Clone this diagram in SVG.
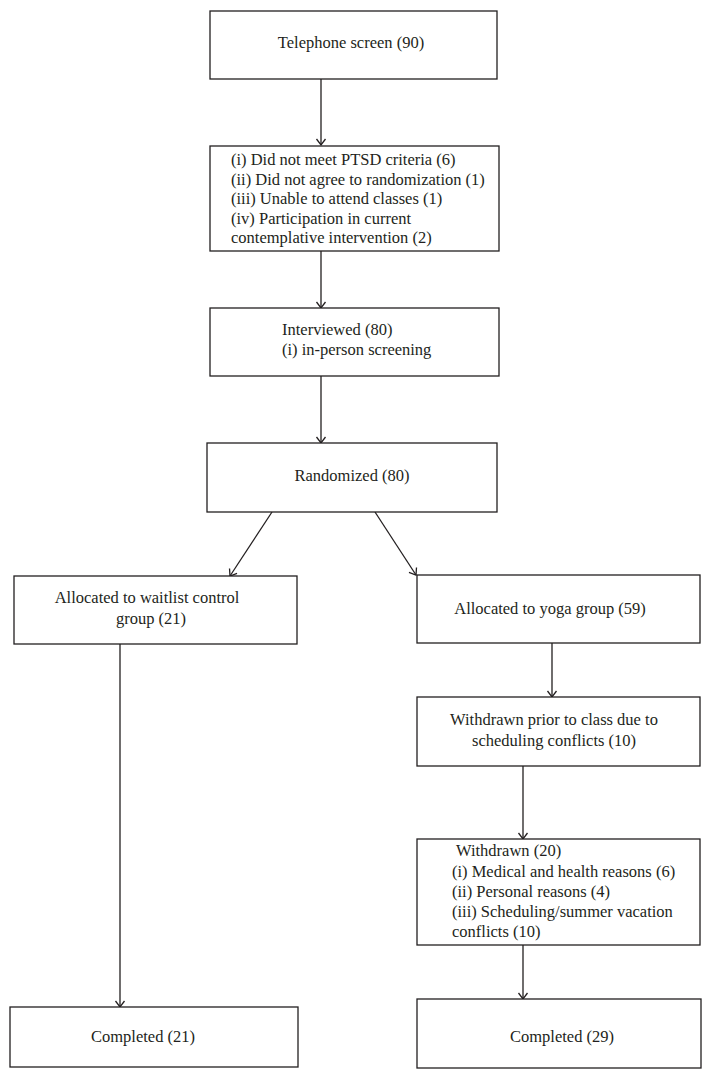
<svg xmlns="http://www.w3.org/2000/svg" width="711" height="1079" viewBox="0 0 711 1079">
<style>
.box{fill:#ffffff;stroke:#231f20;stroke-width:1.3}
.lbl{font-family:"Liberation Serif","Times New Roman",serif;font-size:16.5px;fill:#231f20}
.mid{text-anchor:middle}
.edge{stroke:#231f20;stroke-width:1.3;fill:none}
</style>
<defs>
<marker id="ah" markerUnits="userSpaceOnUse" markerWidth="12" markerHeight="12" refX="8" refY="6" orient="auto">
<path d="M2,1.5 L8,6 L2,10.5" fill="none" stroke="#231f20" stroke-width="1.3"/>
</marker>
</defs>
<rect x="0" y="0" width="711" height="1079" fill="#ffffff"/>
<g id="connectors">
<line class="edge" x1="321" y1="79" x2="321" y2="145" marker-end="url(#ah)"/>
<line class="edge" x1="321" y1="251" x2="321" y2="308" marker-end="url(#ah)"/>
<line class="edge" x1="321" y1="376" x2="321" y2="443" marker-end="url(#ah)"/>
<line class="edge" x1="272" y1="512" x2="230" y2="576" marker-end="url(#ah)"/>
<line class="edge" x1="375" y1="512" x2="416" y2="575" marker-end="url(#ah)"/>
<line class="edge" x1="120" y1="644" x2="120" y2="1007" marker-end="url(#ah)"/>
<line class="edge" x1="552" y1="643" x2="552" y2="697" marker-end="url(#ah)"/>
<line class="edge" x1="523" y1="766" x2="523" y2="839" marker-end="url(#ah)"/>
<line class="edge" x1="523" y1="945" x2="523" y2="999" marker-end="url(#ah)"/>
</g>
<g id="telephone">
<rect class="box" x="210" y="11" width="287" height="68"/>
<text class="lbl mid" x="351" y="48">Telephone screen (90)</text>
</g>
<g id="excluded">
<rect class="box" x="210" y="146" width="289" height="105"/>
<text class="lbl" x="231" y="165">(i) Did not meet PTSD criteria (6)</text>
<text class="lbl" x="231" y="184.5">(ii) Did not agree to randomization (1)</text>
<text class="lbl" x="231" y="204">(iii) Unable to attend classes (1)</text>
<text class="lbl" x="231" y="223.5">(iv) Participation in current</text>
<text class="lbl" x="231" y="243">contemplative intervention (2)</text>
</g>
<g id="interviewed">
<rect class="box" x="210" y="308" width="289" height="68"/>
<text class="lbl" x="282" y="335">Interviewed (80)</text>
<text class="lbl" x="282" y="355">(i) in-person screening</text>
</g>
<g id="randomized">
<rect class="box" x="207" y="443" width="290" height="69"/>
<text class="lbl mid" x="352" y="481">Randomized (80)</text>
</g>
<g id="waitlist">
<rect class="box" x="14" y="576" width="283" height="68"/>
<text class="lbl mid" x="147" y="603">Allocated to waitlist control</text>
<text class="lbl mid" x="151" y="624">group (21)</text>
</g>
<g id="yoga">
<rect class="box" x="417" y="575" width="283" height="68"/>
<text class="lbl mid" x="550" y="614">Allocated to yoga group (59)</text>
</g>
<g id="withdrawn-prior">
<rect class="box" x="417" y="697" width="283" height="69"/>
<text class="lbl mid" x="554" y="725">Withdrawn prior to class due to</text>
<text class="lbl mid" x="554" y="746">scheduling conflicts (10)</text>
</g>
<g id="withdrawn">
<rect class="box" x="417" y="839" width="283" height="106"/>
<text class="lbl" x="456" y="856">Withdrawn (20)</text>
<text class="lbl" x="452" y="877">(i) Medical and health reasons (6)</text>
<text class="lbl" x="452" y="897">(ii) Personal reasons (4)</text>
<text class="lbl" x="452" y="917">(iii) Scheduling/summer vacation</text>
<text class="lbl" x="452" y="937">conflicts (10)</text>
</g>
<g id="completed-control">
<rect class="box" x="10" y="1007" width="288" height="60"/>
<text class="lbl mid" x="143" y="1042">Completed (21)</text>
</g>
<g id="completed-yoga">
<rect class="box" x="417" y="999" width="284" height="69"/>
<text class="lbl mid" x="562" y="1042">Completed (29)</text>
</g>
</svg>
